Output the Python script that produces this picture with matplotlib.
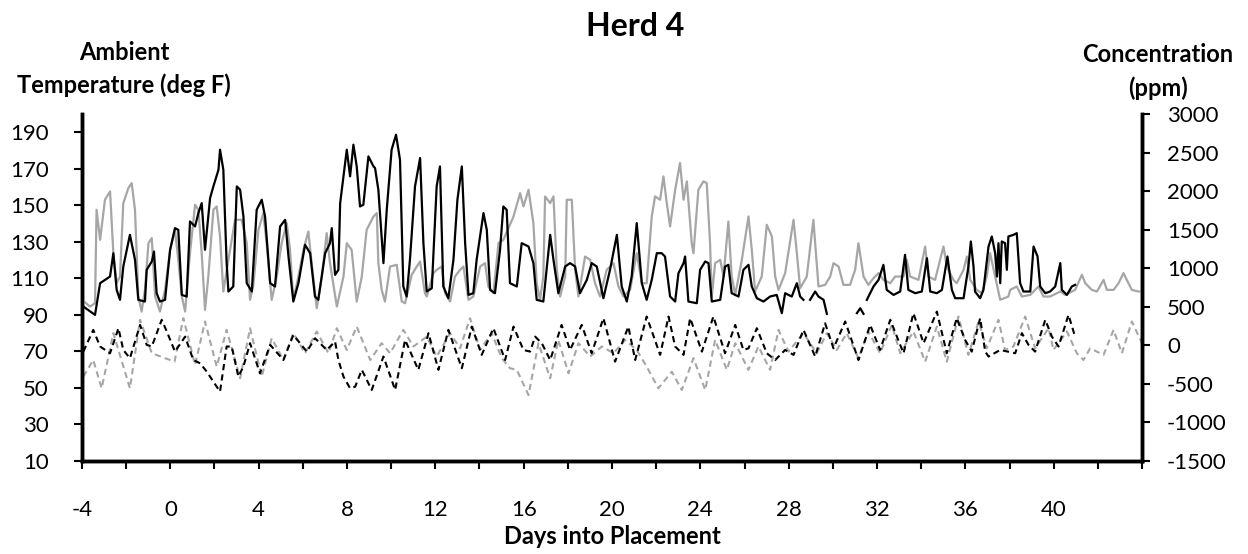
import numpy as np
import matplotlib
matplotlib.use('Agg')
import matplotlib.pyplot as plt

plt.rcParams['font.family'] = ['Lato', 'DejaVu Sans']
plt.rcParams['axes.unicode_minus'] = False

# ---- data ----
# concentration, black solid (right axis, ppm); NaN marks a break in the line
conc_a_day = [-3.94, -3.41, -3.18, -2.73, -2.58, -2.43, -2.28, -2.13, -1.83, -1.60, -1.45, -1.15, -1.07,
              -0.84, -0.74, -0.62, -0.47, -0.24, -0.01, 0.21, 0.36, 0.52, 0.74, 0.89, 1.12, 1.27, 1.42,
              1.57, 1.80, 1.95, 2.18, 2.25, 2.40, 2.55, 2.63, 2.85, 3.01, 3.16, 3.31, 3.46, 3.69, 3.91,
              4.14, 4.29, 4.52, 4.74, 4.97, 5.20, 5.35, 5.57, 5.80, 6.10, 6.33, 6.55, 6.70, 7.01, 7.23,
              7.31, 7.46, 7.61, 7.69, 7.84, 7.99, 8.14, 8.29, 8.44, 8.59, 8.74, 8.97, 9.20, 9.27, 9.42,
              9.65, 9.80, 10.02, 10.22, 10.40, 10.55, 10.70, 10.85, 11.08, 11.31, 11.46, 11.61, 11.84,
              12.06, 12.21, 12.36, 12.59, 12.82, 13.00, 13.20, 13.35, 13.50, 13.72, 13.87, 14.18, 14.33,
              14.48, 14.70, 14.93, 15.08, 15.23, 15.38, 15.69, 15.91, 16.22, 16.44, 16.59, 16.89, 17.20,
              17.35, 17.57, 17.88, 18.10, 18.33, 18.55, 18.86, 19.08, 19.31, 19.61, 19.91, 20.22, 20.44,
              20.67, 20.89, 21.12, 21.35, 21.57, 21.80, 22.03, 22.25, 22.40, 22.63, 22.86, 23.01, 23.24,
              23.31, 23.46, 23.84, 23.99, 24.22, 24.37, 24.52, 24.90, 25.12, 25.27, 25.42, 25.73, 25.95,
              26.18, 26.33, 26.56, 26.86, 27.16, 27.46, 27.69, 27.84, 28.14, 28.37, 28.52, 28.67, 28.80,
              28.97, 29.20, 29.35, 29.58, 29.73, 30.50, 31.09, 31.24, 31.39, 31.46, 31.54, 31.84, 32.07,
              32.29, 32.44, 32.75, 33.05, 33.27, 33.42, 33.73, 34.03, 34.26, 34.41, 34.71, 34.94, 35.19,
              35.39, 35.54, 35.92, 36.14, 36.25, 36.37, 36.44, 36.67, 36.82, 37.05, 37.20, 37.35, 37.43,
              37.50, 37.58, 37.65, 37.80, 37.88, 37.95, 38.18, 38.33, 38.48, 38.63, 38.94, 39.09, 39.27,
              39.39, 39.62, 39.84, 40.07, 40.30, 40.37, 40.60, 40.82, 40.97]
conc_a_ppm = [503, 395, 806, 892, 1195, 719, 590, 1022, 1433, 1109, 590, 568, 979,
              1087, 1217, 676, 568, 590, 1239, 1520, 1498, 654, 633, 1606, 1542, 1715, 1844,
              1239, 1909, 2061, 2277, 2537, 2277, 1066, 698, 763, 2061, 2018, 1671, 806, 698, 1758,
              1888, 1671, 806, 763, 1542, 1628, 1152, 568, 806, 1304, 1195, 633, 590, 1195, 1325,
              1520, 914, 979, 1844, 2191, 2537, 2191, 2602, 2320, 1801, 1823, 2450, 2320, 2299, 2017,
              1066, 1758, 2537, 2731, 2407, 763, 633, 1109, 2061, 2429, 1325, 698, 741,
              2061, 2320, 763, 611, 1109, 1888, 2320, 1325, 654, 676, 1109, 1715, 1498,
              719, 676, 1239, 1801, 1758, 806, 763, 1325, 1282, 1066, 590, 568, 1433,
              1109, 676, 1022, 1066, 1022, 676, 849, 1066, 1022, 611, 979, 1433, 763,
              568, 892, 1585, 806, 590, 849, 1195, 1195, 1152, 633, 568, 936, 1066,
              1152, 568, 546, 979, 1087, 1066, 568, 590, 1022, 1044, 676, 633, 979,
              1044, 763, 611, 568, 633, 654, 417, 676, 633, 806, 633, 590, np.nan,
              590, 698, 633, 590, 408, np.nan, 417, 481, 408, np.nan, 590, 763, 849,
              1044, 719, 654, 698, 1174, 719, 676, 698, 1130, 698, 676, 719, 1152,
              719, 611, 611, 1022, 1347, 1022, 698, 611, 719, 1282, 1412, 1195, 892,
              1325, 806, 1347, 1325, 979, 1412, 1433, 1455, 806, 698, 698, 1282, 1152,
              763, 676, 698, 763, 1066, 719, 654, 763, 784]

# concentration, gray solid (right axis, ppm)
conc_b_day = [-4.00, -3.64, -3.41, -3.34, -3.18, -2.96, -2.73, -2.58, -2.43, -2.28, -2.13, -1.90, -1.75,
              -1.60, -1.45, -1.30, -1.15, -0.99, -0.84, -0.69, -0.47, -0.24, -0.01, 0.21, 0.36, 0.52,
              0.67, 0.89, 1.12, 1.27, 1.42, 1.57, 1.72, 1.95, 2.10, 2.25, 2.40, 2.63, 2.93, 3.23, 3.46,
              3.61, 3.76, 3.99, 4.21, 4.36, 4.59, 4.82, 5.04, 5.27, 5.42, 5.57, 5.80, 6.03, 6.25, 6.40,
              6.63, 6.86, 7.08, 7.23, 7.54, 7.84, 7.99, 8.21, 8.44, 8.67, 8.89, 9.20, 9.35, 9.42, 9.57,
              9.72, 9.95, 10.25, 10.48, 10.63, 10.93, 11.16, 11.31, 11.53, 11.61, 11.91, 12.06, 12.29,
              12.44, 12.67, 12.89, 13.12, 13.27, 13.50, 13.72, 14.03, 14.25, 14.40, 14.63, 14.86, 15.08,
              15.54, 15.84, 15.99, 16.22, 16.44, 16.59, 16.74, 16.89, 16.97, 17.20, 17.35, 17.50, 17.65,
              17.88, 17.95, 18.18, 18.33, 18.48, 18.78, 19.01, 19.23, 19.46, 19.76, 20.07, 20.29, 20.52,
              20.82, 21.12, 21.35, 21.57, 21.80, 21.95, 22.18, 22.33, 22.48, 22.63, 22.86, 23.08, 23.24,
              23.39, 23.61, 23.69, 23.91, 24.14, 24.29, 24.44, 24.52, 24.67, 24.90, 25.05, 25.27, 25.42,
              25.58, 25.88, 26.18, 26.33, 26.48, 26.78, 27.01, 27.24, 27.39, 27.54, 27.84, 28.22, 28.37,
              28.52, 28.82, 29.12, 29.35, 29.65, 29.88, 30.03, 30.26, 30.48, 30.78, 31.01, 31.16, 31.39,
              31.61, 31.84, 32.07, 32.29, 32.60, 32.82, 33.20, 33.35, 33.50, 33.88, 34.18, 34.33, 34.63,
              35.01, 35.16, 35.46, 35.61, 35.92, 36.07, 36.22, 36.52, 36.75, 36.97, 37.12, 37.35, 37.58,
              37.95, 38.03, 38.33, 38.56, 38.94, 39.31, 39.54, 39.84, 40.30, 40.52, 40.97, 41.28, 41.43,
              41.73, 41.96, 42.26, 42.41, 42.71, 42.94, 43.16, 43.31, 43.54, 43.84, 44.00]
conc_b_ppm = [590, 503, 546, 1758, 1368, 1888, 1996, 1195, 806, 892, 1844, 2039, 2104,
              1758, 633, 438, 719, 1325, 1390, 633, 438, 719, 1239, 1498, 1109, 633,
              438, 1195, 1823, 1758, 1195, 460, 892, 1758, 1801, 1412, 698, 1109, 1628, 1628, 1325,
              590, 784, 1498, 1715, 1325, 590, 892, 1325, 1585, 1239, 590, 892, 1239, 1477, 1066,
              481, 892, 1455, 1066, 503, 892, 1325, 1239, 568, 892, 1498, 1671, 1715, 1066, 719,
              568, 1022, 1044, 568, 546, 914, 1022, 1087, 676, 633, 936, 979, 1022,
              676, 568, 892, 979, 1022, 590, 633, 1022, 1066, 763, 676, 1325, 1368,
              1671, 1974, 1801, 2018, 1585, 806, 590, 892, 1931, 1844, 1931, 979, 633,
              892, 1888, 1888, 979, 633, 1152, 1109, 806, 633, 979, 1066, 763, 633,
              719, 1195, 806, 806, 1671, 1931, 1888, 2191, 1844, 1542, 2017, 2364, 1888,
              2126, 1325, 1195, 2017, 2126, 2104, 1325, 633, 1066, 1109, 892, 1606, 892,
              654, 1109, 1671, 1239, 698, 892, 1563, 1412, 892, 719, 936, 1628, 1195,
              741, 892, 1628, 763, 784, 892, 1066, 1022, 784, 784, 979, 1325, 892,
              784, 871, 936, 849, 806, 892, 892, 1109, 892, 849, 1282, 892, 849,
              1282, 1022, 849, 806, 979, 1152, 849, 719, 676, 892, 1195, 892, 590,
              633, 719, 763, 633, 654, 763, 633, 633, 698, 654, 719, 914, 806,
              719, 698, 849, 719, 719, 806, 936, 849, 719, 698, 698]

# ambient temperature, black dashed (left axis, deg F)
temp_a_day = [-3.94, -3.49, -3.18, -2.73, -2.35, -2.13, -1.83, -1.37, -1.07, -0.84, -0.39, -0.16, 0.21,
              0.67, 1.04, 1.35, 1.65, 2.10, 2.25, 2.55, 2.78, 3.08, 3.31, 3.61, 4.06, 4.52, 5.12, 5.57,
              6.18, 6.55, 6.78, 7.08, 7.46, 7.61, 7.84, 8.14, 8.37, 8.67, 9.12, 9.65, 10.18, 10.63,
              11.23, 11.69, 12.14, 12.59, 13.20, 13.65, 14.10, 14.63, 15.16, 15.54, 15.99, 16.29, 16.52,
              16.82, 17.20, 17.72, 18.10, 18.63, 19.08, 19.61, 20.14, 20.74, 21.05, 21.57, 22.18, 22.56,
              22.86, 23.24, 23.54, 24.07, 24.59, 25.12, 25.58, 25.95, 26.18, 26.56, 27.01, 27.39, 27.84,
              28.22, 28.67, 29.20, 29.65, 30.03, 30.56, 31.16, 31.69, 32.14, 32.60, 33.20, 33.65, 34.11,
              34.71, 35.16, 35.61, 35.99, 36.29, 36.67, 36.90, 37.05, 37.58, 38.26, 38.56, 38.86, 39.16,
              39.62, 39.92, 40.22, 40.67, 40.97]
temp_a_f = [69.9, 81.8, 72.7, 69.0, 82.7, 70.8, 66.3, 84.5, 73.6, 72.7, 87.3, 80.9, 69.9,
            78.1, 65.3, 63.5, 58.9, 50.7, 48.0, 72.7, 72.7, 56.2, 61.7, 74.5, 58.0, 73.6, 65.3, 79.0,
            69.9, 77.2, 74.5, 70.8, 75.4, 65.3, 56.2, 49.8, 50.7, 59.9, 48.9, 67.2, 48.9, 76.3,
            59.9, 80.0, 59.9, 81.8, 60.8, 83.6, 68.1, 82.7, 65.3, 83.6, 70.8, 69.9, 78.1,
            74.5, 65.3, 84.5, 70.8, 84.5, 69.0, 88.2, 64.4, 83.6, 65.3, 89.1, 68.1, 89.1,
            72.7, 68.1, 88.2, 69.9, 89.1, 69.0, 84.5, 70.8, 71.7, 82.7, 69.0, 65.3, 70.8,
            68.1, 81.8, 67.2, 85.4, 71.7, 86.4, 65.3, 84.5, 70.8, 87.3, 69.0, 90.9, 74.5,
            91.8, 69.0, 88.2, 76.3, 69.9, 88.2, 69.9, 67.2, 70.8, 69.0, 80.0, 73.6, 69.9,
            87.3, 78.1, 72.7, 90.0, 78.1]

# ambient temperature, gray dashed (left axis, deg F)
temp_b_day = [-3.94, -3.49, -3.11, -2.58, -1.83, -1.37, -0.84, 0.19, 0.59, 1.12, 1.57, 2.10, 2.55,
              3.16, 3.61, 4.14, 4.59, 5.12, 5.57, 6.10, 6.63, 7.16, 7.54, 7.99, 8.44, 9.05, 9.57, 9.95,
              10.55, 11.01, 11.61, 12.06, 12.67, 13.12, 13.57, 14.03, 14.55, 15.01, 15.38, 15.69, 16.22,
              16.67, 17.20, 17.57, 18.03, 18.48, 19.01, 19.54, 20.07, 20.59, 21.12, 21.57, 22.10, 22.71,
              23.16, 23.69, 24.22, 24.67, 25.20, 25.58, 26.18, 26.63, 27.16, 27.54, 27.99, 28.67, 29.27,
              29.73, 30.18, 30.63, 31.16, 31.61, 32.14, 32.67, 33.05, 33.65, 34.18, 34.71, 35.16, 35.69,
              36.14, 36.60, 36.97, 37.50, 37.80, 38.18, 38.71, 39.16, 39.77, 39.99, 40.60, 41.05, 41.35,
              41.65, 42.26, 42.71, 43.09, 43.54, 44.00]
temp_b_f = [56.2, 65.3, 49.8, 80.0, 49.8, 87.3, 69.0, 64.4, 88.2, 62.6, 86.4, 61.7, 81.8,
            55.3, 82.7, 56.2, 77.2, 65.3, 80.0, 69.0, 80.9, 69.0, 82.7, 70.8, 83.6, 65.3, 74.5, 69.0,
            81.8, 72.7, 78.1, 67.2, 80.0, 71.7, 88.2, 70.8, 80.0, 66.3, 60.8, 59.9, 46.1,
            74.5, 55.3, 76.3, 58.0, 74.5, 67.2, 72.7, 69.0, 76.3, 70.8, 61.7, 49.8, 58.9,
            48.9, 66.3, 48.9, 76.3, 59.9, 74.5, 59.9, 72.7, 59.9, 81.8, 69.9, 80.0, 69.0,
            80.0, 70.8, 80.0, 66.3, 80.9, 69.0, 84.5, 69.0, 80.9, 64.4, 83.6, 64.4, 89.1,
            68.1, 86.4, 71.7, 87.3, 70.8, 72.7, 89.1, 71.7, 82.7, 70.8, 80.9, 69.0, 65.3,
            71.7, 68.1, 81.8, 69.0, 86.4, 74.5]

x_ticks = np.arange(-4, 45, 2)
x_labels = [str(t) if t % 4 == 0 and t <= 40 else '' for t in x_ticks]

# ---- figure ----
fig = plt.figure(figsize=(12.48, 5.54), dpi=100)
ax = fig.add_axes([82 / 1248, 1 - 461 / 554, 1060 / 1248, 347 / 554])
ax2 = ax.twinx()

ax.plot(temp_b_day, temp_b_f, color='#a6a6a6', lw=1.5, ls=(0, (3, 2)), zorder=2)
ax.plot(temp_a_day, temp_a_f, color='black', lw=1.5, ls=(0, (3, 2)), zorder=3)
ax2.plot(conc_b_day, conc_b_ppm, color='#a6a6a6', lw=1.6, zorder=2)
ax2.plot(conc_a_day, conc_a_ppm, color='black', lw=1.6, zorder=3)

ax.set_xlim(-4, 44)
ax.set_ylim(10, 200)
ax2.set_ylim(-1500, 3000)
ax.set_xticks(x_ticks)
ax.set_xticklabels(x_labels)
ax.set_yticks(np.arange(10, 191, 20))
ax2.set_yticks(np.arange(-1500, 3001, 500))

for a in (ax, ax2):
    a.spines['top'].set_visible(False)
    for s in ('left', 'right', 'bottom'):
        a.spines[s].set_linewidth(2.5)
    a.tick_params(width=1.5, length=6, labelsize=16, direction='out')
ax.tick_params(axis='x', pad=22)
ax.tick_params(axis='y', pad=18)
ax2.tick_params(axis='y', pad=12)

fig.text(635 / 1248, 1 - 27 / 554, 'Herd 4', ha='center', va='center', fontsize=23, fontweight='bold')
fig.text(124 / 1248, 1 - 52 / 554, 'Ambient', ha='center', va='center', fontsize=17, fontweight='bold')
fig.text(124 / 1248, 1 - 85 / 554, 'Temperature (deg F)', ha='center', va='center', fontsize=17,
         fontweight='bold')
fig.text(1158 / 1248, 1 - 55 / 554, 'Concentration', ha='center', va='center', fontsize=17,
         fontweight='bold')
fig.text(1158 / 1248, 1 - 88 / 554, '(ppm)', ha='center', va='center', fontsize=17, fontweight='bold')
fig.text(612 / 1248, 1 - 537 / 554, 'Days into Placement', ha='center', va='center', fontsize=17,
         fontweight='bold')

fig.savefig('out.png', dpi=100)
